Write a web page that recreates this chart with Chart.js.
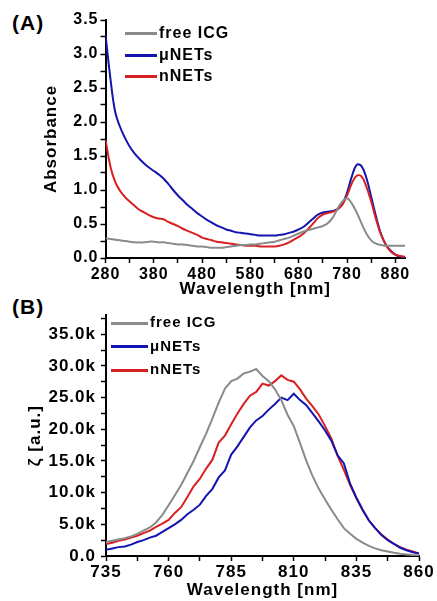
<!DOCTYPE html>
<html>
<head>
<meta charset="utf-8">
<script src="https://cdn.jsdelivr.net/npm/chart.js@4.4.1/dist/chart.umd.min.js"></script>
<style>
    html, body { margin: 0; padding: 0; background: #fff; }
    #wrap { position: relative; width: 437px; height: 601px; font-family: "Liberation Sans", Arial, sans-serif; font-weight: bold; color: #000; }
    .panel { position: absolute; left: 0; width: 437px; }
    .tag { position: absolute; left: 12px; font-size: 21px; letter-spacing: 1px; }
    .leg { position: absolute; white-space: nowrap; letter-spacing: 1px; line-height: 20px; height: 20px; }
    .leg i { display: inline-block; vertical-align: middle; height: 3px; margin-right: 2px; }
</style>
</head>
<body>
<div id="wrap">
    <div class="tag" style="top:11px">(A)</div>
    <div class="tag" style="top:295px">(B)</div>
    <div class="panel" style="top:0;height:300px"><canvas id="absorbance-chart" width="437" height="300"></canvas></div>
    <div class="panel" style="top:300px;height:301px"><canvas id="fluo-chart" width="437" height="301"></canvas></div>
    <div id="legend-a"></div>
    <div id="legend-b"></div>
</div>
<script>
// Series names and colours
const seriesNames = ['free ICG', '\u03bcNETs', 'nNETs'];
const seriesColors = ['#8a8a8a', '#1414b0', '#d82020'];

// (A) absorbance spectra
const wavelengthA = [280, 290, 300, 310, 320, 330, 340, 350, 360, 370,
    380, 390, 400, 410, 420, 430, 440, 450, 460, 470,
    480, 490, 500, 510, 520, 530, 540, 550, 560, 570,
    580, 590, 600, 610, 620, 630, 640, 650, 660, 670,
    680, 690, 700, 710, 720, 730, 740, 750, 760, 770,
    780, 790, 800, 810, 820, 830, 840, 850, 860, 870,
    880, 890, 900];
const absFreeICG = [0.29, 0.28, 0.27, 0.26, 0.25, 0.24, 0.23, 0.23, 0.23, 0.24,
    0.24, 0.23, 0.23, 0.22, 0.21, 0.20, 0.20, 0.19, 0.18, 0.17,
    0.17, 0.16, 0.15, 0.15, 0.15, 0.16, 0.17, 0.18, 0.19, 0.19,
    0.20, 0.20, 0.21, 0.22, 0.23, 0.24, 0.26, 0.28, 0.30, 0.33,
    0.36, 0.39, 0.41, 0.43, 0.45, 0.47, 0.51, 0.59, 0.72, 0.83,
    0.88, 0.80, 0.67, 0.51, 0.36, 0.26, 0.21, 0.19, 0.18, 0.18,
    0.18, 0.18, 0.18];
const absMicroNETs = [3.28, 2.65, 2.15, 1.93, 1.77, 1.64, 1.54, 1.46, 1.39, 1.33,
    1.28, 1.23, 1.17, 1.09, 1.00, 0.92, 0.85, 0.78, 0.72, 0.66,
    0.61, 0.56, 0.52, 0.48, 0.45, 0.42, 0.40, 0.38, 0.37, 0.36,
    0.35, 0.34, 0.33, 0.33, 0.33, 0.33, 0.34, 0.35, 0.37, 0.39,
    0.42, 0.46, 0.52, 0.58, 0.64, 0.67, 0.68, 0.69, 0.72, 0.79,
    0.96, 1.20, 1.37, 1.35, 1.18, 0.90, 0.61, 0.36, 0.20, 0.11,
    0.05, 0.02, 0.01];
const absNanoNETs = [1.74, 1.35, 1.12, 0.99, 0.90, 0.83, 0.77, 0.71, 0.67, 0.63,
    0.60, 0.58, 0.57, 0.53, 0.50, 0.47, 0.43, 0.40, 0.37, 0.34,
    0.30, 0.28, 0.26, 0.24, 0.23, 0.22, 0.21, 0.20, 0.19, 0.18,
    0.18, 0.18, 0.17, 0.17, 0.17, 0.17, 0.18, 0.20, 0.23, 0.27,
    0.31, 0.36, 0.43, 0.51, 0.59, 0.64, 0.66, 0.68, 0.71, 0.78,
    0.92, 1.10, 1.21, 1.20, 1.05, 0.83, 0.57, 0.35, 0.20, 0.10,
    0.05, 0.03, 0.02];
const ticksA_x = [280, 330, 380, 430, 480, 530, 580, 630, 680, 730, 780, 830, 880];
const labelsA_x = [280, 380, 480, 580, 680, 780, 880];
const ticksA_y = [0, 0.25, 0.5, 0.75, 1, 1.25, 1.5, 1.75, 2, 2.25, 2.5, 2.75, 3, 3.25, 3.5];

// (B) fluorescence spectra, intensity in thousands
const wavelengthB = [735, 737.5, 740, 742.5, 745, 747.5, 750, 752.5, 755, 757.5,
    760, 762.5, 765, 767.5, 770, 772.5, 775, 777.5, 780, 782.5,
    785, 787.5, 790, 792.5, 795, 797.5, 800, 802.5, 805, 807.5,
    810, 812.5, 815, 817.5, 820, 822.5, 825, 827.5, 830, 832.5,
    835, 837.5, 840, 842.5, 845, 847.5, 850, 852.5, 855, 857.5,
    860];
const fluoFreeICG = [2.2, 2.4, 2.6, 2.8, 3.1, 3.5, 4.0, 4.5, 5.3, 6.5,
    8.0, 9.6, 11.2, 13.1, 15.0, 17.2, 19.3, 21.7, 24.2, 26.4,
    27.6, 28.0, 28.8, 29.1, 29.5, 28.4, 27.6, 26.3, 24.6, 22.3,
    20.5, 17.8, 15.0, 12.6, 10.6, 8.9, 7.3, 5.8, 4.4, 3.5,
    2.7, 2.1, 1.6, 1.2, 0.9, 0.7, 0.5, 0.35, 0.25, 0.15,
    0.1];
const fluoMicroNETs = [1.0, 1.2, 1.4, 1.5, 1.8, 2.2, 2.5, 2.9, 3.2, 3.8,
    4.4, 5.0, 5.7, 6.6, 7.3, 8.1, 9.5, 10.6, 12.4, 13.5,
    16.0, 17.3, 18.8, 20.3, 21.4, 22.1, 23.1, 24.0, 25.0, 24.6,
    25.6, 24.6, 23.8, 22.5, 21.2, 19.8, 18.2, 15.9, 14.6, 11.4,
    9.2, 7.3, 5.6, 4.4, 3.3, 2.5, 1.9, 1.3, 0.9, 0.6,
    0.4];
const fluoNanoNETs = [1.9, 2.1, 2.4, 2.6, 2.9, 3.2, 3.6, 4.0, 4.6, 5.1,
    5.7, 6.8, 7.7, 9.3, 11.0, 12.2, 13.8, 15.2, 17.9, 19.0,
    20.8, 22.5, 24.0, 25.3, 25.9, 27.2, 26.9, 27.6, 28.5, 27.8,
    27.5, 26.3, 24.8, 23.6, 22.3, 20.5, 18.5, 15.8, 13.6, 11.2,
    9.1, 7.2, 5.6, 4.4, 3.4, 2.6, 1.9, 1.4, 1.0, 0.7,
    0.4];
const ticksB_x = [735, 747.5, 760, 772.5, 785, 797.5, 810, 822.5, 835, 847.5, 860];
const labelsB_x = [735, 760, 785, 810, 835, 860];
const ticksB_y = [0, 2.5, 5, 7.5, 10, 12.5, 15, 17.5, 20, 22.5, 25, 27.5, 30, 32.5, 35, 37.5];

Chart.defaults.font.family = '"Liberation Sans", Arial, sans-serif';
Chart.defaults.font.weight = 'bold';
Chart.defaults.color = '#000';

// canvas letter spacing, the original labels are a bit spread out
const spacingPlugin = {
    id: 'spacing',
    beforeDraw(chart) {
        chart.ctx.letterSpacing = '1px';
    }
};

function toPoints(xs, ys) {
    return xs.map((x, i) => ({ x: x, y: ys[i] }));
}

function axis(opts) {
    return {
        type: 'linear',
        min: opts.min,
        max: opts.max,
        afterBuildTicks: (scale) => {
            scale.ticks = opts.ticks.map(v => ({ value: v }));
        },
        afterFit: opts.fit,
        border: { display: true, color: '#000', width: 2 },
        grid: { display: true, drawOnChartArea: false, drawTicks: true, tickLength: 5, tickColor: '#000', tickWidth: 1.5 },
        ticks: {
            autoSkip: false,
            maxRotation: 0,
            padding: opts.padding,
            font: { size: opts.fontSize, weight: 'bold' },
            callback: opts.label
        },
        title: {
            display: true,
            text: opts.title,
            padding: 0,
            font: { size: 17, weight: 'bold' }
        }
    };
}

function makeChart(canvasId, xs, series, order, tension, scales, padding) {
    const datasets = order.map(i => ({
        label: seriesNames[i],
        data: toPoints(xs, series[i]),
        borderColor: seriesColors[i],
        borderWidth: 2,
        pointRadius: 0,
        fill: false,
        tension: tension
    }));
    const ctx = document.getElementById(canvasId).getContext('2d');
    return new Chart(ctx, {
        type: 'line',
        data: { datasets: datasets },
        options: {
            responsive: false,
            animation: false,
            layout: { padding: padding },
            plugins: { legend: { display: false }, tooltip: { enabled: false } },
            scales: scales
        },
        plugins: [spacingPlugin]
    });
}

makeChart('absorbance-chart', wavelengthA, [absFreeICG, absMicroNETs, absNanoNETs], [0, 2, 1], 0.4, {
    x: axis({
        min: 280, max: 900, ticks: ticksA_x, padding: 2, fontSize: 16, title: 'Wavelength [nm]',
        fit: (s) => { s.height = 42; },
        label: (v) => labelsA_x.includes(v) ? String(v) : ''
    }),
    y: axis({
        min: 0, max: 3.5, ticks: ticksA_y, padding: 2, fontSize: 16, title: 'Absorbance',
        fit: (s) => { s.width = 64; },
        label: (v) => (v * 2) % 1 === 0 ? v.toFixed(1) : ''
    })
}, { left: 41.5, right: 32, top: 20, bottom: 0 });

makeChart('fluo-chart', wavelengthB, [fluoFreeICG, fluoMicroNETs, fluoNanoNETs], [0, 1, 2], 0, {
    x: axis({
        min: 735, max: 860, ticks: ticksB_x, padding: 1, fontSize: 17, title: 'Wavelength [nm]',
        fit: (s) => { s.height = 45; },
        label: (v) => labelsB_x.includes(v) ? String(v) : ''
    }),
    y: axis({
        min: 0, max: 38, ticks: ticksB_y, padding: 5, fontSize: 17, title: '\u03b6 [a.u.]',
        fit: (s) => { s.width = 81; },
        label: (v) => v % 5 === 0 ? (v === 0 ? '0.0' : v.toFixed(1) + 'k') : ''
    })
}, { left: 25, right: 18, top: 10, bottom: 0 });

// legends drawn as html, sitting inside the plot areas
function buildLegend(id, left, top, step, lineLen, fontSize) {
    const box = document.getElementById(id);
    seriesNames.forEach((name, i) => {
        const row = document.createElement('div');
        row.className = 'leg';
        row.style.left = left + 'px';
        row.style.top = (top + i * step) + 'px';
        row.style.fontSize = fontSize + 'px';
        row.innerHTML = '<i style="width:' + lineLen + 'px;background:' + seriesColors[i] + '"></i>' + name;
        box.appendChild(row);
    });
}
buildLegend('legend-a', 125, 23, 21.5, 32, 16);
buildLegend('legend-b', 111, 312, 23.5, 37, 15);
</script>
</body>
</html>
